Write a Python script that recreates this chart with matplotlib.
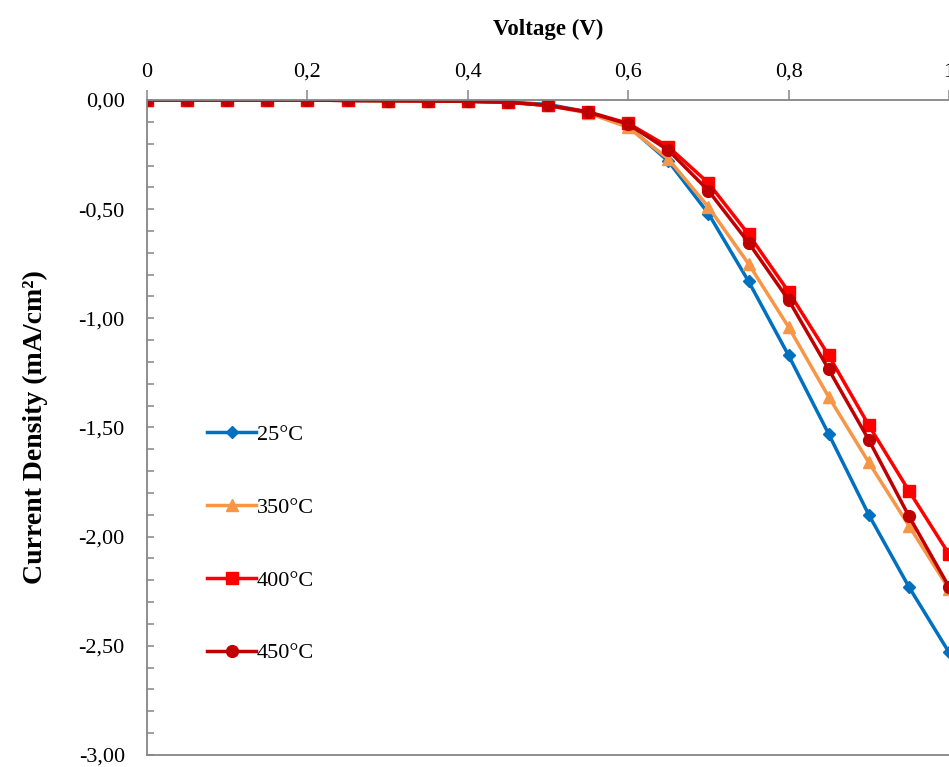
import matplotlib
matplotlib.use("Agg")
import matplotlib.pyplot as plt
from matplotlib.ticker import MultipleLocator, FuncFormatter

plt.rcParams["font.family"] = ["Liberation Serif", "DejaVu Serif"]

# Tensão (V) e densidade de corrente (mA/cm2) para cada temperatura
voltagem = [0, 0.05, 0.10, 0.15, 0.20, 0.25, 0.30, 0.35, 0.40, 0.45, 0.50,
            0.55, 0.60, 0.65, 0.70, 0.75, 0.80, 0.85, 0.90, 0.95, 1.00]

j_25 = [0, 0, 0, 0, 0, -0.002, -0.003, -0.004, -0.006, -0.01, -0.02,
        -0.055, -0.12, -0.28, -0.52, -0.83, -1.17, -1.53, -1.90, -2.23, -2.53]
j_350 = [0, 0, 0, 0, 0, -0.002, -0.003, -0.004, -0.006, -0.01, -0.025,
         -0.06, -0.125, -0.27, -0.49, -0.75, -1.04, -1.36, -1.66, -1.95, -2.24]
j_400 = [0, 0, 0, 0, 0, -0.002, -0.003, -0.004, -0.006, -0.01, -0.025,
         -0.054, -0.107, -0.214, -0.38, -0.615, -0.878, -1.17, -1.49, -1.79, -2.08]
j_450 = [0, 0, 0, 0, 0, -0.002, -0.003, -0.004, -0.006, -0.01, -0.025,
         -0.056, -0.11, -0.23, -0.415, -0.653, -0.916, -1.234, -1.557, -1.906, -2.23]

rotulos = ["25°C", "350°C", "400°C", "450°C"]

fig = plt.figure(figsize=(9.49, 7.67), dpi=100)
ax = fig.add_axes([0.1549, 0.0157, 0.8451, 0.8539])

ax.plot(voltagem, j_25, color="#0070C0", lw=2.5, marker="D", ms=6.5,
        label=rotulos[0])
ax.plot(voltagem, j_350, color="#F79646", lw=2.5, marker="^", ms=8.5,
        label=rotulos[1])
ax.plot(voltagem, j_400, color="#FF0000", lw=2.5, marker="s", ms=9,
        label=rotulos[2])
ax.plot(voltagem, j_450, color="#C00000", lw=2.5, marker="o", ms=8.5,
        label=rotulos[3])

ax.set_xlim(0, 1)
ax.set_ylim(-3, 0)

# Eixo X no topo
ax.xaxis.tick_top()
ax.xaxis.set_label_position("top")
ax.xaxis.set_major_locator(MultipleLocator(0.2))
ax.xaxis.set_major_formatter(FuncFormatter(
    lambda v, p: "0" if abs(v) < 1e-9 else ("1" if abs(v - 1) < 1e-9 else f"{v:.1f}".replace(".", ","))))
ax.yaxis.set_major_locator(MultipleLocator(0.5))
ax.yaxis.set_minor_locator(MultipleLocator(0.1))
ax.yaxis.set_major_formatter(FuncFormatter(lambda v, p: f"{v:.2f}".replace(".", ",").replace("-0,00", "0,00")))

ax.spines["right"].set_visible(False)
for lado in ["top", "left", "bottom"]:
    ax.spines[lado].set_color("#868686")
    ax.spines[lado].set_linewidth(1.3)

ax.tick_params(axis="x", direction="out", length=7, width=1.1, colors="#868686",
               labelcolor="black", labelsize=16, pad=6)
ax.tick_params(axis="y", which="both", direction="in", length=5, width=1.1,
               colors="#868686", labelcolor="black", labelsize=16, pad=16)

ax.set_xlabel("Voltage (V)", fontsize=16.5, fontweight="bold", labelpad=20)
ax.set_ylabel("Current Density (mA/cm²)", fontsize=20, fontweight="bold", labelpad=22)

ax.legend(loc="upper left", bbox_to_anchor=(0.05, 0.535), frameon=False,
          fontsize=16, handlelength=2.2, handletextpad=0.05, labelspacing=2.35)

fig.savefig("out.png", dpi=100)
